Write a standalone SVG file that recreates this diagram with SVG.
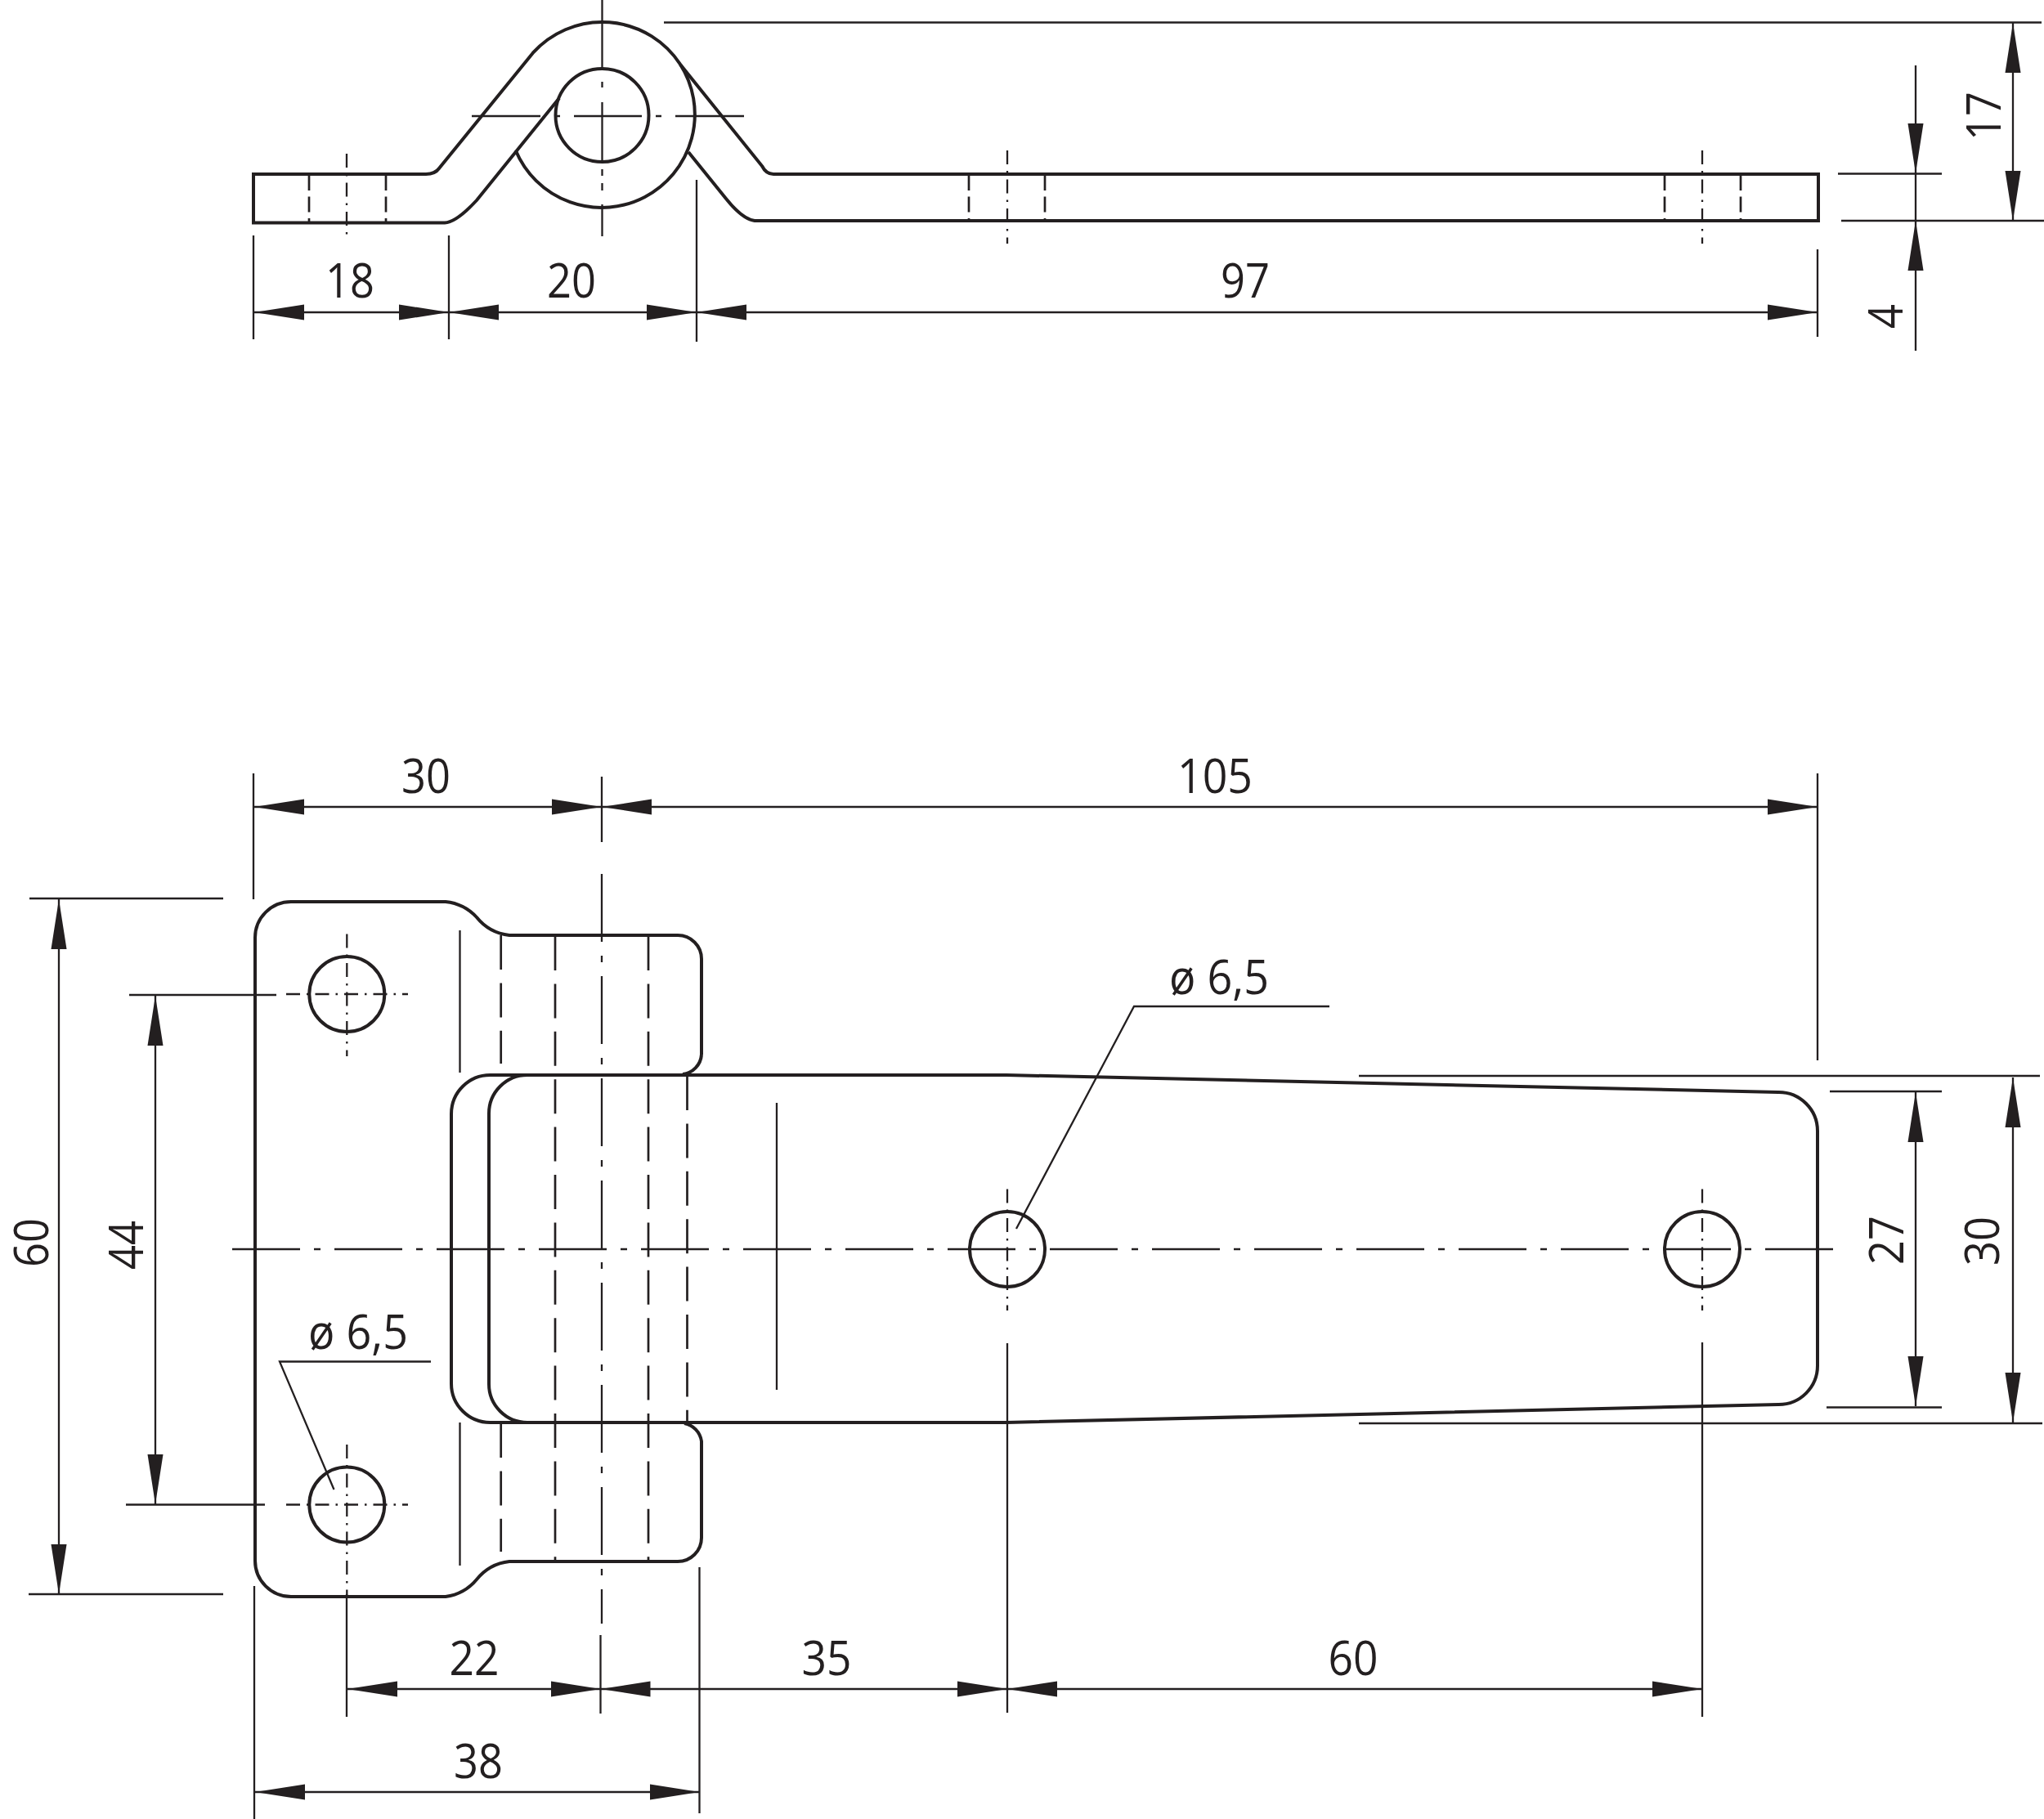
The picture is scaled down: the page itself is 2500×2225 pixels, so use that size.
<svg xmlns="http://www.w3.org/2000/svg" width="2500" height="2225" viewBox="0 0 2500 2225">
<style>
.o{fill:none;stroke:#231f20;stroke-width:4;stroke-linejoin:miter}
.t{fill:none;stroke:#231f20;stroke-width:2.300}
.h{fill:none;stroke:#231f20;stroke-width:2.700;stroke-dasharray:42 16.400}
.hs{fill:none;stroke:#231f20;stroke-width:2.700;stroke-dasharray:19 7.500}
.c{fill:none;stroke:#231f20;stroke-width:2.300;stroke-dasharray:83 17 8 17}
.cs{fill:none;stroke:#231f20;stroke-width:2.300;stroke-dasharray:17 8 2.500 8}
.a{fill:none;stroke:#231f20;stroke-width:2.300;marker-start:url(#ar);marker-end:url(#ar)}
.e{fill:none;stroke:#231f20;stroke-width:2.300;marker-end:url(#ar)}
text{font-family:"Open Sans","Liberation Sans",sans-serif;font-size:59px;fill:#231f20;text-anchor:middle}
</style>
<defs>
<marker id="ar" markerUnits="userSpaceOnUse" markerWidth="62" markerHeight="20" refX="61" refY="10" orient="auto-start-reverse"><path d="M0 .5L61 10L0 19.500Z" fill="#231f20"/></marker>
</defs>
<rect width="2500" height="2225" fill="#fff"/>

<g id="side-view">
<path class="o" d="M521 213H310V272.500H544Q558 272 583 245L684 120"/>
<path class="o" d="M521 213Q532 213 537 206L651.800 64.700A114 114 0 0 1 832 78.700L932 203Q937 213 946 213H2224V270H923Q908 268 888 243L842 186"/>
<path class="o" d="M630.700 184A114 114 0 1 0 832 78.700"/>
<circle class="o" cx="736.500" cy="141" r="57"/>
<path class="hs" d="M378 214V272M472 214V272M1185 214V270M1278 214V270M2036 214V270M2129 214V270"/>
<path class="cs" d="M424 188V288M1232 184V298M2082 184V298"/>
<path class="t" d="M736.500 0V83M736.500 100V107M736.500 125V197M736.500 207V215M736.500 224V233M736.500 250V289"/>
<path class="t" d="M577 142H661M678 142H685M702 142H785M802 142H809M826 142H910"/>
</g>

<g id="plan-bracket">
<path class="o" d="M858 1290V1173A29 29 0 0 0 829 1144H623A60 60 0 0 1 583 1122A60 60 0 0 0 545 1103H356A44 44 0 0 0 312 1147V1909A44 44 0 0 0 356 1953H545A60 60 0 0 0 583 1932A60 60 0 0 1 623 1910H829A29 29 0 0 0 858 1881V1763A26 26 0 0 0 837 1741"/>
<path class="o" d="M858 1290A26 26 0 0 1 835 1314"/>
<path class="t" d="M562.500 1138V1312M562.500 1740V1915"/>
<path class="h" d="M612.700 1144V1301M612.700 1741V1898M679 1145V1910M793 1145V1910"/>
</g>

<g id="plan-leaf">
<path class="o" d="M645 1315H600A47.500 47.500 0 0 0 552 1362.500V1692.500A47.500 47.500 0 0 0 600 1740H645"/>
<path class="o" d="M1231 1315L2175 1336A47.500 47.500 0 0 1 2223 1383.500V1670A47.500 47.500 0 0 1 2175 1718L1231 1740H645A47 47 0 0 1 598 1693V1362A47 47 0 0 1 645 1315Z"/>
<path class="h" d="M840.500 1316V1740"/>
<path class="t" d="M950 1349V1700"/>
</g>

<g id="holes">
<circle class="o" cx="424.300" cy="1216" r="46"/>
<circle class="o" cx="424.300" cy="1840.500" r="46"/>
<circle class="o" cx="1232" cy="1528" r="46"/>
<circle class="o" cx="2082" cy="1528" r="46"/>
<path class="cs" d="M424.300 1142.500V1292M424.300 1767V1953M2082 1454.500V1603M1232 1454.500V1603M350 1216H499M350 1840.500H499"/>
</g>

<g id="connectors">
<path class="c" d="M284 1528H2242"/>
<path class="c" d="M736 1069V1986"/>
<path class="t" d="M734.500 2000V2096"/>
<path class="t" d="M310 288V415M549 288V415M852 220V418M2223 305V412"/>
<path class="t" d="M812 27.500H2497M2248 212.500H2375M2252 270H2500"/>
<path class="a" d="M311 382H549"/><path class="a" d="M549 382H852"/><path class="a" d="M852 382H2223"/>
<path class="e" d="M2343 80V212"/><path class="e" d="M2343 429V270"/><path class="t" d="M2343 212V270"/>
<path class="a" d="M2462 28V270"/>
<path class="t" d="M310 946V1100M2223 946V1297"/>
<path class="a" d="M311 987H736"/><path class="a" d="M736 987H2223"/>
<path class="t" d="M736 950V1030"/>
<path class="t" d="M36 1099H273M35 1950H273M158 1217H338M154 1840.500H324"/>
<path class="a" d="M72 1100V1950"/><path class="a" d="M190 1218V1840"/>
<path class="t" d="M1662 1316H2495M1662 1741H2498M2238 1335H2375M2234 1721.500H2375"/>
<path class="a" d="M2343 1336V1720"/><path class="a" d="M2462 1318V1740"/>
<path class="t" d="M424 1950V2100M1232 1643V2095M2082 1642V2100M311 1940V2225M855.500 1917V2218"/>
<path class="a" d="M425 2066H734.500"/><path class="a" d="M734.500 2066H1232"/><path class="a" d="M1232 2066H2082"/>
<path class="a" d="M312 2192H855.500"/>
<path class="t" d="M527 1665.500H342L408.500 1822M1626 1231H1387L1243 1503"/>
</g>

<g id="labels">
<text x="428" y="364" textLength="60" lengthAdjust="spacingAndGlyphs">18</text>
<text x="699" y="364" textLength="60" lengthAdjust="spacingAndGlyphs">20</text>
<text x="1523" y="364" textLength="60" lengthAdjust="spacingAndGlyphs">97</text>
<text transform="translate(2447 142) rotate(-90)" textLength="60" lengthAdjust="spacingAndGlyphs">17</text>
<text transform="translate(2327 387) rotate(-90)" textLength="30" lengthAdjust="spacingAndGlyphs">4</text>
<text x="521" y="970" textLength="60" lengthAdjust="spacingAndGlyphs">30</text>
<text x="1486" y="970" textLength="92" lengthAdjust="spacingAndGlyphs">105</text>
<text transform="translate(59 1520) rotate(-90)" textLength="60" lengthAdjust="spacingAndGlyphs">60</text>
<text transform="translate(175 1523) rotate(-90)" textLength="60" lengthAdjust="spacingAndGlyphs">44</text>
<text transform="translate(2328 1517) rotate(-90)" textLength="60" lengthAdjust="spacingAndGlyphs">27</text>
<text transform="translate(2445 1518) rotate(-90)" textLength="60" lengthAdjust="spacingAndGlyphs">30</text>
<text x="580" y="2048.500" textLength="61" lengthAdjust="spacingAndGlyphs">22</text>
<text x="1011" y="2048.500" textLength="61" lengthAdjust="spacingAndGlyphs">35</text>
<text x="1655" y="2048.500" textLength="61" lengthAdjust="spacingAndGlyphs">60</text>
<text x="585" y="2175" textLength="60" lengthAdjust="spacingAndGlyphs">38</text>
<text x="438" y="1650" textLength="122" lengthAdjust="spacingAndGlyphs">ø 6,5</text>
<text x="1491" y="1216" textLength="122" lengthAdjust="spacingAndGlyphs">ø 6,5</text>
</g>
</svg>
